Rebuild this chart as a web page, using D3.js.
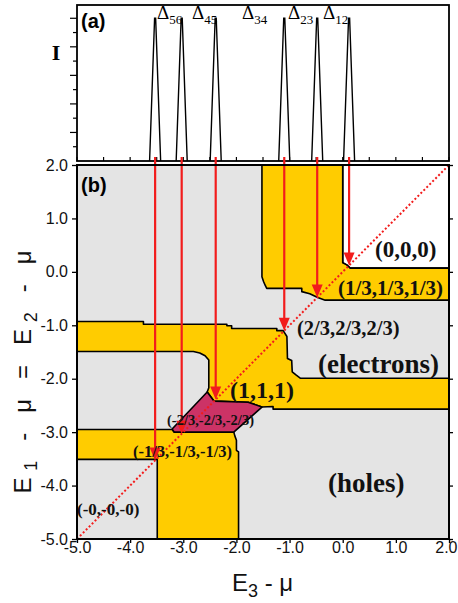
<!DOCTYPE html>
<html><head><meta charset="utf-8">
<script src="https://cdn.jsdelivr.net/npm/d3@7"></script>
<style>body{margin:0;background:#fff}svg{display:block}</style>
</head><body>
<div id="chart"></div>
<script>
// ---------- data ----------
const peakCenters = [-3.53, -3.03, -2.39, -1.10, -0.48, 0.12];   // E3 - mu of the peaks
const peakHeight = 1.0;
const peakHalfWidth = 0.104;
const peakLabels = ["56", "45", "34", "23", "12"];
const intensityTicks = [0.1,0.2,0.3,0.4,0.5,0.6,0.7,0.8,0.9,1.0];
const axisTicks = [-5, -4, -3, -2, -1, 0, 1, 2];
const halfTicks = [-5,-4.5,-4,-3.5,-3,-2.5,-2,-1.5,-1,-0.5,0,0.5,1,1.5,2];

const regionWhite = [[0,2],[2,2],[2,0.07],[0.14,0.07],[0.075,0.13],[0,0.17]];
const regionOneThird = [[-1.52,2],[0,2],[0,0.17],[0.075,0.13],[0.14,0.07],[2,0.07],[2,-0.53],
  [-0.33,-0.53],[-0.47,-0.48],[-0.62,-0.41],[-0.77,-0.37],[-0.77,-0.31],[-1.43,-0.31],
  [-1.46,-0.25],[-1.49,-0.18],[-1.52,-0.09]];
const regionTwoThirds = [[-5,-0.93],[-3.75,-0.93],[-3.75,-0.98],[-2.18,-0.98],[-2.18,-1.01],
  [-2.09,-1.01],[-2.09,-1.06],[-1.24,-1.06],[-1.24,-1.10],[-1.12,-1.10],[-1.05,-1.21],
  [-1.04,-1.62],[-0.96,-1.66],[-0.95,-1.87],[-0.88,-1.93],[-0.80,-1.99],[2,-1.99],[2,-2.57],
  [-1.31,-2.57],[-1.31,-2.52],[-1.52,-2.53],[-1.78,-2.44],[-2.42,-2.42],[-2.55,-2.25],
  [-2.52,-2.17],[-2.52,-1.65],[-2.59,-1.57],[-2.69,-1.52],[-2.81,-1.49],[-5,-1.49]];
const regionMinusTwoThirds = [[-2.55,-2.25],[-2.42,-2.42],[-1.78,-2.44],[-1.52,-2.53],
  [-2.05,-3.0],[-3.17,-3.0],[-3.21,-2.94]];
const regionMinusOneThird = [[-5,-2.95],[-3.21,-2.95],[-3.17,-3.0],[-2.05,-3.0],[-2.03,-3.07],
  [-2.0,-3.15],[-2.0,-3.34],[-1.96,-3.37],[-1.96,-5],[-3.49,-5],[-3.49,-3.51],[-5,-3.51]];

const regionLabels = ["(0,0,0)","(1/3,1/3,1/3)","(2/3,2/3,2/3)","(electrons)","(1,1,1)",
  "(-2/3,-2/3,-2/3)","(-1/3,-1/3,-1/3)","(-0,-0,-0)","(holes)"];

// ---------- layout ----------
const W = 458, H = 603;
const svg = d3.select("#chart").append("svg").attr("width", W).attr("height", H);
const x = d3.scaleLinear().domain([-5, 2]).range([77, 449]);
const yb = d3.scaleLinear().domain([-5, 2]).range([539, 165]);
const ya = d3.scaleLinear().domain([0, 1.093]).range([161, 5]);

const SANS = "'Liberation Sans', Arial, sans-serif";
const SERIF = "'Liberation Serif', 'Times New Roman', serif";
const RED = "#f21c1c", YEL = "#ffcc00", PINK = "#cc3366", GRAY = "#e4e4e4";

// ---------- panel (a) ----------
const ga = svg.append("g");
ga.append("rect").attr("x", 77).attr("y", 5).attr("width", 372).attr("height", 156)
  .attr("fill", "#fff");
const peakLine = d3.line().x(d => x(d[0])).y(d => ya(d[1]));
peakCenters.forEach(c => {
  ga.append("path")
    .attr("d", peakLine([[c - peakHalfWidth, 0], [c - 0.01, peakHeight], [c + 0.01, peakHeight], [c + peakHalfWidth, 0]]))
    .attr("fill", "none").attr("stroke", "#000").attr("stroke-width", 1.4);
});
// left ticks
intensityTicks.forEach((t, i) => {
  const major = (i % 2 === 1);
  ga.append("line").attr("x1", 77 - (major ? 7 : 4)).attr("x2", 77)
    .attr("y1", ya(t)).attr("y2", ya(t)).attr("stroke", "#000").attr("stroke-width", 1.2);
});
// bottom ticks pointing up
halfTicks.forEach(t => {
  ga.append("line").attr("x1", x(t)).attr("x2", x(t)).attr("y1", 161).attr("y2", 157)
    .attr("stroke", "#000").attr("stroke-width", 1.2);
});
ga.append("rect").attr("x", 77).attr("y", 5).attr("width", 372).attr("height", 156)
  .attr("fill", "none").attr("stroke", "#000").attr("stroke-width", 1.8);
ga.append("text").attr("x", 81).attr("y", 28).attr("font-family", SANS).attr("font-weight", "bold")
  .attr("font-size", 20).text("(a)");
ga.append("text").attr("x", 56).attr("y", 60).attr("text-anchor", "middle").attr("font-family", SERIF)
  .attr("font-weight", "bold").attr("font-size", 22).text("I");
// Delta labels (start x in px)
const deltaX = [157, 192, 242, 288, 323];
peakLabels.forEach((s, i) => {
  const t = ga.append("text").attr("x", deltaX[i]).attr("y", 19).attr("font-family", SERIF)
    .attr("font-size", 19);
  t.append("tspan").text("\u0394");
  t.append("tspan").attr("dy", 5).attr("font-size", 13).text(s);
});

// ---------- panel (b) ----------
const gb = svg.append("g");
gb.append("rect").attr("x", 77).attr("y", 165).attr("width", 372).attr("height", 374).attr("fill", GRAY);
const area = d3.line().x(d => x(d[0])).y(d => yb(d[1])).curve(d3.curveLinearClosed);
function region(pts, fill) {
  gb.append("path").attr("d", area(pts)).attr("fill", fill).attr("stroke", "#000")
    .attr("stroke-width", 1.6).attr("stroke-linejoin", "round");
}
region(regionWhite, "#fff");
region(regionOneThird, YEL);
region(regionTwoThirds, YEL);
region(regionMinusOneThird, YEL);
region(regionMinusTwoThirds, PINK);

// diagonal
gb.append("line").attr("x1", x(-5)).attr("y1", yb(-5)).attr("x2", x(2)).attr("y2", yb(2))
  .attr("stroke", RED).attr("stroke-width", 2).attr("stroke-dasharray", "2,2.2");

// arrows
peakCenters.forEach(c => {
  const tx = x(c), ty = yb(c);
  gb.append("line").attr("x1", tx).attr("x2", tx).attr("y1", 157).attr("y2", ty - 10)
    .attr("stroke", RED).attr("stroke-width", 2.2);
  gb.append("path").attr("d", `M${tx},${ty} L${tx - 5.5},${ty - 13} L${tx + 5.5},${ty - 13} Z`)
    .attr("fill", RED);
});

// region labels
const labelPos = [[375, 256.7, 23], [338, 295, 21], [297, 335, 20.5], [318, 373, 27], [230, 398, 24],
  [167, 425, 14.5], [133, 456.7, 16.5], [77, 515, 17], [328, 492, 27]];
regionLabels.forEach((s, i) => {
  const p = labelPos[i];
  gb.append("text").attr("x", p[0]).attr("y", p[1]).attr("font-family", SERIF)
    .attr("font-weight", "bold").attr("font-size", p[2]).attr("fill", "#111").text(s);
});
gb.append("text").attr("x", 81).attr("y", 192).attr("font-family", SANS).attr("font-weight", "bold")
  .attr("font-size", 20).text("(b)");

// frame
gb.append("rect").attr("x", 77).attr("y", 165).attr("width", 372).attr("height", 374)
  .attr("fill", "none").attr("stroke", "#000").attr("stroke-width", 2);

// axes
const fmt = d => d.toFixed(1);
const axL = svg.append("g").attr("transform", "translate(77,0)")
  .call(d3.axisLeft(yb).tickValues(axisTicks).tickFormat(fmt).tickSize(5).tickPadding(4));
const axB = svg.append("g").attr("transform", "translate(0,539)")
  .call(d3.axisBottom(x).tickValues(axisTicks).tickFormat(fmt).tickSize(4).tickPadding(-1));
const axR = svg.append("g").attr("transform", "translate(449,0)")
  .call(d3.axisRight(yb).tickValues(axisTicks).tickFormat("").tickSize(4));
[axL, axB, axR].forEach(a => {
  a.select(".domain").remove();
  a.selectAll("line").attr("stroke-width", 1.3);
  a.selectAll("text").attr("font-family", SANS).attr("font-size", 16).attr("fill", "#111");
});
// keep the last bottom label inside the picture
axB.selectAll(".tick").filter(d => d === 2).select("text")
  .attr("text-anchor", "end").attr("x", 457 - x(2));

// axis titles
const xt = svg.append("text").attr("x", 232).attr("y", 591).attr("font-family", SANS)
  .attr("font-size", 24).attr("fill", "#111");
xt.append("tspan").text("E");
xt.append("tspan").attr("dy", 6).attr("font-size", 18).text("3");
xt.append("tspan").attr("dy", -6).text(" - \u03bc");

const yt = svg.append("text").attr("transform", "translate(31,372) rotate(-90)")
  .attr("text-anchor", "middle").attr("font-family", SANS).attr("font-size", 24).attr("fill", "#111")
  .attr("textLength", 243).attr("lengthAdjust", "spacing");
yt.append("tspan").text("E");
yt.append("tspan").attr("dy", 6).attr("font-size", 18).text("1");
yt.append("tspan").attr("dy", -6).text(" - \u03bc = E");
yt.append("tspan").attr("dy", 6).attr("font-size", 18).text("2");
yt.append("tspan").attr("dy", -6).text(" - \u03bc");
</script>
</body></html>
